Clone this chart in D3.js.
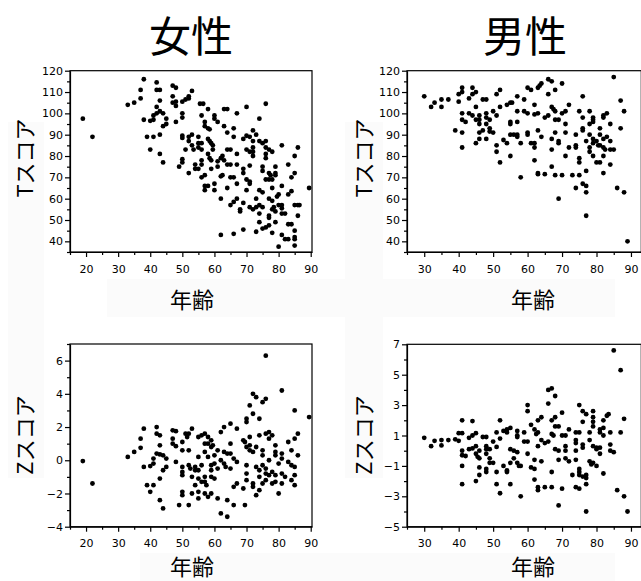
<!DOCTYPE html>
<html>
<head>
<meta charset="utf-8">
<script src="https://cdn.jsdelivr.net/npm/d3@7"></script>
<style>
  body { margin: 0; background: #fff; }
  svg { display: block; }
  .tick text { font-family: "DejaVu Sans", sans-serif; font-size: 11px; fill: #000; }
  .jp { font-family: "Noto Sans CJK JP", sans-serif; fill: #000; }
</style>
</head>
<body>
<svg id="chart" width="641" height="581"></svg>
<script>
// group titles and axis titles
var groups = ['女性', '男性'];
var xTitle = '年齢';
var yTitles = ['Tスコア', 'Zスコア'];

// tick labels
var xTicksF = [20, 30, 40, 50, 60, 70, 80, 90];
var xTicksM = [30, 40, 50, 60, 70, 80, 90];
var tTicks = [40, 50, 60, 70, 80, 90, 100, 110, 120];
var zTicksF = [-4, -2, 0, 2, 4, 6];
var zTicksM = [-5, -3, -1, 1, 3, 5, 7];

// [age, score]
var femaleT = [[19,97.5],[22,89],[33,104],[35,105],[37,111],[37,107],[38,116],[38,97],[39,89],[40,83],[40,96.5],[41,97],[41,99],[42,100],[41,89],[42,114.5],[42,111],[43,111],[42,103],[43,106],[43,101],[44,100],[43,90],[43,81],[44,77],[44,94],[45,95],[45,97.5],[47,113],[48,112],[47,108],[47,105],[48,103.5],[48,105.5],[48,96],[49,75],[50,77],[50,78.5],[50,89.5],[50,88.5],[50,100],[50,98],[50,105.5],[51,106.5],[52,108],[52,107],[53,110.5],[51,83],[52,72],[52,87],[52,89],[53,90],[53,85],[53.5,83],[54,76],[54,74],[55,84],[55,86],[56,86],[55,89],[55,74],[56,70],[55.5,104.5],[56.5,104.5],[56,99],[57,96],[57,94],[57,64],[57,66],[56,78],[56,76],[56,83],[57,71],[58,102],[58,93],[58.5,92.5],[58,88],[58.5,87],[59,86],[58,81],[58.5,79],[59,78],[58,66],[59,74],[59.5,83],[59.5,85],[60,97.5],[60,99],[60,67],[61,96],[60,64],[61,75],[61,77.5],[62,60],[62,70.5],[62.5,71],[62,79],[62.5,80],[63,94],[63,102],[64,102],[63,78],[64,91],[64,83],[65,83],[64,76],[64,65],[65,70],[66,70],[65,76],[66,93],[66,89],[62,43],[66,43.5],[65,57],[66,58.5],[67,60],[67,100],[67,76],[67,67],[67,81],[68,54],[68,55],[69,45.5],[70,103],[69,88],[70,89.5],[69,72],[69,74],[70,83],[71,82],[69,58],[70,64],[70,69],[71,89],[72,87],[71,67],[71,68],[71,75.5],[72,84],[72,82],[72,80],[72,92],[71,56],[72,55],[73,56],[73,44.5],[73,60],[73,90],[74,87],[75,86],[74,97.5],[74,64],[75,63],[74,57],[74,53],[74,49],[75,75],[75,73],[75,46],[76,46.5],[77,47.5],[75,56],[76,104.5],[76,87],[76,84],[77,83],[76,69],[77,69],[78,69],[77,60],[76,81],[76,79],[77,72],[77.5,71],[77,51],[77,52],[78,82],[78,59],[78,65],[78,55],[78.5,56],[78,44],[79,75],[79,72],[79,71],[79,54],[79,49],[79.5,61],[80,37.5],[80,62],[80,57],[81,53],[81,85],[81,66],[81,55.5],[81,57],[81,43],[82,41],[82,53],[83,76],[83,41],[83,48],[84,48],[83,62],[84,63.5],[84,70],[85,72],[85,80],[85,57],[86,57],[85,45],[85,42],[85,41],[85,38],[86,84],[86,52],[86.5,57],[89.5,65]];

var maleT = [[30,108],[32,103],[33,105],[35,106.5],[35,103],[37,106.5],[39,92],[40,109],[40,105.5],[41,112],[41,110],[41,100],[41,97],[42,96],[41,91],[41,84],[43,107],[44,109],[43,100],[44,99],[44,112],[45,110],[45,103],[45,97],[45,86],[46,99],[46,97],[46,95],[46,91],[46,88],[47,92],[47,106.5],[48,106.5],[48,100],[48,98],[48,95],[49,93],[48,88],[49,91.5],[50,91],[49,97],[50,101],[51,109],[51,99],[51,85],[51,82],[52,111],[52,103],[52,77],[53,87.5],[54,86],[54,104],[55,105],[55.5,105],[55,96],[55,95],[55,90],[55,80],[56,90],[57,108],[57,101],[57,96],[57,90],[57,89],[58,86],[58,70],[59,106.5],[59,101],[60,112],[61,111],[60,91],[60,90],[60,100],[61,86],[62,104],[62,99.5],[62,86],[62,84],[62,78],[63,112],[63.5,113],[63,100],[63,92],[63,72],[63,71.5],[64,114],[64,89],[65,98],[65,71.5],[66,116],[67,115],[66,109],[66,99],[67,103],[67.5,102],[67,88],[67,83],[67,75],[68,111],[68,101],[68,97],[69,97],[68,91],[68,71],[69,87],[69,86],[69,60],[70,114],[70,100],[70,71],[71,101],[71,95],[71,91],[71,80],[72,104],[72,84],[73,71],[74,90],[74,85],[74,84],[74,65],[75,101],[75,79],[75,77],[75,71],[76,108],[76,98],[76,93],[76,92],[76,67],[77,66],[77,73],[77,63],[77,52],[77,87],[78,95],[79,96],[78,101],[78,90],[78,84],[78,82],[79,98],[79,97],[79,88],[79,86],[79,80],[80,87],[80.5,85],[80,77],[81,77],[81,93],[81,90],[81,85],[82,98],[82,99],[82,88],[82,84],[82.5,83],[82,80],[82,72],[83,100],[83,89],[84,95],[84,87],[84,83],[85,83],[84,76],[85,117],[86,65],[87,106],[87,93],[88,101],[88,63],[89,40]];

var femaleZ = [[19,-0.05],[22,-1.4],[33,0.2],[35,0.5],[37,1.3],[37,0.75],[38,1.9],[38,-0.4],[39,-1.5],[40,-0.35],[41,-0.2],[40,-1.9],[41,-1.5],[41,0.1],[42,2.0],[42,1.6],[43,1.5],[42,0.4],[43,0.35],[43,0.9],[43,-1.1],[43,-2.4],[44,-2.9],[44,0.3],[45,0.1],[45,-0.4],[44,-0.6],[47,1.8],[48,1.75],[47,1.3],[47,1.0],[48,0.85],[48,-0.1],[49,-2.7],[50,1.1],[50,0.6],[50,-0.4],[50,-0.7],[50,-0.9],[50,-1.9],[50,-2.1],[51,1.6],[51.5,1.4],[52,1.6],[52,0.6],[52,-0.3],[52.5,-0.5],[52,-2.7],[53,1.9],[53,-1.0],[53,-2.0],[54,-0.4],[54,-0.6],[54,-1.5],[55,1.4],[56,1.5],[55,0.2],[55,-0.6],[55,-1.1],[56,-1.3],[55,-2.3],[55,-1.9],[56,-0.3],[57,1.6],[57,1.0],[57,0.5],[57,-1.3],[57,-1.0],[57.5,-1.5],[57,-2.0],[58,1.4],[58,1.0],[59,0.8],[58,-2.2],[58,0.2],[59,-0.3],[59,1.2],[59.5,0.9],[59,-0.6],[59,-1.0],[59,-2.0],[60,0.3],[60,-0.2],[60,-1.1],[61,0.6],[61,-0.5],[61,-2.3],[62,1.7],[62,-3.2],[62,0.0],[63,2.0],[63,0.5],[63,-0.2],[63.5,-0.4],[64,-3.4],[64,-2.4],[64,0.4],[65,0.4],[65,2.2],[65,1.0],[65,-0.5],[66,-2.7],[66,0.1],[66,-1.6],[67,1.9],[67,-0.1],[67,-1.4],[69,1.2],[69.5,1.1],[69,-1.7],[69.5,-2.7],[70,2.5],[70,2.3],[70,0.8],[71,0.9],[70,-0.3],[70,-0.8],[70,-1.2],[71,3.3],[71,1.4],[71,0.6],[72,0.5],[72,4.0],[72,2.8],[72,-1.4],[72,-1.6],[73,3.8],[73,0.8],[73,-0.4],[73,-2.1],[74,2.5],[74,1.5],[74,-0.6],[74,-1.0],[74,-1.8],[75,3.5],[76,3.7],[75,0.6],[75,0.3],[75,-0.3],[75,-1.4],[76,6.3],[76,1.6],[77,1.7],[76,-0.5],[76,-0.8],[76,-1.2],[77,1.3],[78,1.5],[77,0.0],[77,-0.9],[78,-0.7],[78,-1.4],[79,0.9],[79,0.5],[79,0.3],[79,-0.9],[79,-1.3],[80,-0.2],[80,-2.0],[81,4.2],[81,0.4],[81,0.1],[81,-0.8],[81,-1.4],[82,-1.0],[83,1.1],[83,-0.1],[84,-0.3],[84,0.6],[84,-1.2],[85,3.0],[85,1.3],[85,-0.4],[85,-0.9],[85,-1.5],[86,1.6],[86,0.3],[89.5,2.6]];

var maleZ = [[30,0.85],[32,0.3],[33,0.65],[35,0.7],[35,0.35],[37,0.7],[39,0.75],[40,0.65],[40,1.15],[41,1.15],[41,2.0],[41,0.0],[41,-0.3],[42,-0.35],[41,-1.0],[41,-2.2],[43,0.85],[44,1.0],[43,0.1],[44,0.15],[44,1.95],[45,1.15],[45,0.3],[45,-0.2],[45.5,-0.4],[45,-2.0],[46,0.0],[46,-0.5],[46,-1.1],[46,-1.6],[47,0.9],[48,0.9],[48,0.3],[48,0.1],[48,-0.2],[48,-1.4],[48,-1.2],[49,0.1],[49,-0.5],[49,-0.8],[50,-0.8],[50,0.6],[51,1.2],[51,0.25],[51,-1.4],[51,-2.2],[52,2.0],[52,0.8],[52,-2.8],[53,1.3],[54,1.2],[53,-1.0],[54,-1.3],[54,-1.4],[54,1.4],[55,1.5],[55,0.1],[56,0.0],[55,-0.8],[55,-2.2],[56,-0.5],[57,1.3],[57,1.0],[57,0.9],[57,-0.1],[57,-0.8],[57.5,-1.0],[58,-1.0],[58,-3.0],[59,1.2],[59,0.6],[60,3.0],[60,2.6],[60,0.6],[60,-0.2],[61,1.7],[61,-1.1],[62,-1.2],[62,1.4],[62.5,1.1],[62,-0.6],[62,-1.9],[63,2.0],[64,2.2],[63,1.2],[63,0.3],[63,-2.4],[63,-2.6],[64,0.7],[64,-0.7],[65,0.5],[65,-2.4],[66,4.0],[67,4.1],[66,3.1],[66,0.6],[67,2.0],[67,1.1],[67.5,1.0],[67,-1.4],[67,-2.4],[68,3.6],[68,2.2],[68,1.6],[69,1.6],[68,0.1],[69,0.0],[69,-0.6],[69,-3.6],[70,2.5],[70,1.0],[70,-2.5],[71,1.0],[71,0.3],[71,0.0],[71,-0.5],[72,1.4],[72,-0.7],[73,-1.6],[74,1.2],[74,0.7],[74,0.5],[74,0.0],[74,-0.6],[74,-2.4],[75,3.0],[75,1.2],[75,-1.2],[75,-1.4],[75,-1.6],[75,-2.5],[76,2.6],[76,1.9],[76,0.4],[76,0.2],[76,-1.7],[77,2.4],[77,-1.8],[77,-1.6],[77,-2.2],[77,-4.0],[78,1.2],[78,0.7],[78,-0.7],[78.5,-0.9],[79,2.6],[79,2.2],[79,1.9],[79,1.6],[79,0.3],[80,0.2],[79,-0.8],[80,0.1],[80,-1.0],[81,1.2],[81,1.4],[81,0.2],[81,-0.2],[82,2.0],[82,1.5],[82,1.0],[82,-1.5],[83,2.3],[83.5,2.4],[84,1.2],[84,0.4],[84,0.0],[85,-0.1],[85,6.6],[86,-2.6],[87,5.3],[87,1.2],[88,2.1],[88,-3.0],[89,-4.0]];

var svg = d3.select('#chart');

// faint backing boxes behind the axis titles
var bg = svg.append('g').attr('fill', '#fbfbfb');
bg.append('rect').attr('x', 8).attr('y', 122).attr('width', 36).attr('height', 356);
bg.append('rect').attr('x', 345).attr('y', 122).attr('width', 38).attr('height', 356);
bg.append('rect').attr('x', 107).attr('y', 279).attr('width', 508).attr('height', 38);
bg.append('rect').attr('x', 140).attr('y', 553).attr('width', 475).attr('height', 28);

function range(a, b, step) { return d3.range(a, b + step / 2, step); }

function drawPanel(cfg) {
  var x = d3.scaleLinear().domain(cfg.xDomain).range(cfg.xRange);
  var y = d3.scaleLinear().domain(cfg.yDomain).range(cfg.yRange);
  var g = svg.append('g');

  // frame
  g.append('rect')
    .attr('x', cfg.xRange[0]).attr('y', cfg.yRange[1])
    .attr('width', cfg.xRange[1] - cfg.xRange[0])
    .attr('height', cfg.yRange[0] - cfg.yRange[1])
    .attr('fill', 'none').attr('stroke', '#000').attr('stroke-width', 1.2);

  // minor ticks
  g.append('g')
    .attr('transform', 'translate(0,' + cfg.yRange[0] + ')')
    .call(d3.axisBottom(x).tickValues(cfg.xMinor).tickSize(3).tickFormat(''))
    .call(function(s) { s.select('.domain').remove(); });
  g.append('g')
    .attr('transform', 'translate(' + cfg.xRange[0] + ',0)')
    .call(d3.axisLeft(y).tickValues(cfg.yMinor).tickSize(3).tickFormat(''))
    .call(function(s) { s.select('.domain').remove(); });

  // major ticks
  g.append('g')
    .attr('transform', 'translate(0,' + cfg.yRange[0] + ')')
    .call(d3.axisBottom(x).tickValues(cfg.xTicks).tickSize(5).tickSizeOuter(0).tickPadding(8))
    .call(function(s) { s.select('.domain').attr('stroke-width', 1.2); });
  g.append('g')
    .attr('transform', 'translate(' + cfg.xRange[0] + ',0)')
    .call(d3.axisLeft(y).tickValues(cfg.yTicks).tickSize(5).tickSizeOuter(0).tickPadding(2))
    .call(function(s) { s.select('.domain').attr('stroke-width', 1.2); });

  g.selectAll('.tick line').attr('stroke-width', 1.2);

  g.append('g')
    .selectAll('circle')
    .data(cfg.data)
    .enter()
    .append('circle')
    .attr('cx', function(d) { return x(d[0]); })
    .attr('cy', function(d) { return y(d[1]); })
    .attr('r', 2.4)
    .attr('fill', '#000');

  // axis titles
  svg.append('text').attr('class', 'jp')
    .attr('x', cfg.xTitleX).attr('y', cfg.xTitleY)
    .attr('text-anchor', 'middle').attr('font-size', 22)
    .text(xTitle);
  svg.append('text').attr('class', 'jp')
    .attr('transform', 'translate(' + cfg.yTitleX + ',' + cfg.yTitleY + ') rotate(-90)')
    .attr('text-anchor', 'middle').attr('font-size', 22)
    .text(cfg.yTitle);
}

var leftX = { xDomain: [15, 90.4], xRange: [70, 312], xTicks: xTicksF, xMinor: range(15, 85, 10) };
var rightX = { xDomain: [25, 93], xRange: [407, 641.3], xTicks: xTicksM, xMinor: range(25, 85, 10) };

drawPanel(Object.assign({}, leftX, {
  yDomain: [35, 120], yRange: [252, 70.7], yTicks: tTicks, yMinor: range(35, 115, 10),
  data: femaleT, yTitle: yTitles[0], xTitleX: 192, xTitleY: 308, yTitleX: 33, yTitleY: 158
}));
drawPanel(Object.assign({}, rightX, {
  yDomain: [35, 120], yRange: [252, 70.7], yTicks: tTicks, yMinor: range(35, 115, 10),
  data: maleT, yTitle: yTitles[0], xTitleX: 533, xTitleY: 308, yTitleX: 372, yTitleY: 158
}));
drawPanel(Object.assign({}, leftX, {
  yDomain: [-4, 7], yRange: [526.7, 344], yTicks: zTicksF, yMinor: range(-3, 7, 2),
  data: femaleZ, yTitle: yTitles[1], xTitleX: 192, xTitleY: 575, yTitleX: 33, yTitleY: 435
}));
drawPanel(Object.assign({}, rightX, {
  yDomain: [-5, 7], yRange: [526.7, 344.3], yTicks: zTicksM, yMinor: range(-4, 6, 2),
  data: maleZ, yTitle: yTitles[1], xTitleX: 533, xTitleY: 575, yTitleX: 372, yTitleY: 435
}));

// group titles
svg.selectAll('text.group')
  .data(groups)
  .enter()
  .append('text')
  .attr('class', 'jp group')
  .attr('x', function(d, i) { return i === 0 ? 191 : 525; })
  .attr('y', 52)
  .attr('text-anchor', 'middle')
  .attr('font-size', 42)
  .text(function(d) { return d; });
</script>
</body>
</html>
